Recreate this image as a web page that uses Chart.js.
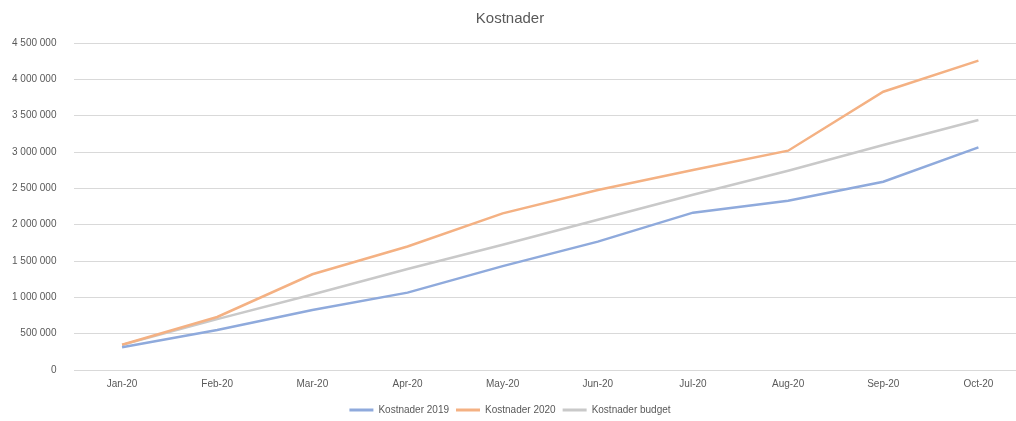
<!DOCTYPE html>
<html>
<head>
<meta charset="utf-8">
<script src="https://cdn.jsdelivr.net/npm/chart.js@4"></script>
<style>
  html, body { margin: 0; padding: 0; background: #fff; overflow: hidden; }
  #wrap { width: 1046px; height: 421px; position: relative; }
</style>
</head>
<body>
<div id="wrap"><canvas id="chart"></canvas></div>
<script>
// Chart data
const months = ['Jan-20', 'Feb-20', 'Mar-20', 'Apr-20', 'May-20', 'Jun-20', 'Jul-20', 'Aug-20', 'Sep-20', 'Oct-20'];
const kostnader2019 = [312000, 550000, 826000, 1065000, 1430000, 1766000, 2165000, 2330000, 2590000, 3064000];
const kostnader2020 = [348000, 730000, 1317000, 1700000, 2156000, 2477000, 2752000, 3018000, 3830000, 4257000];
const kostnaderBudget = [346000, 700000, 1040000, 1390000, 1724000, 2067000, 2412000, 2743000, 3096000, 3440000];
const yTicksMax = 4500000;
const yTicksStep = 500000;

const textColor = '#595959';
const gridColor = '#d9d9d9';
const fontFamily = '"Liberation Sans", Arial, sans-serif';

// Format with space as thousands separator
function formatNumber(v) {
  return String(v).replace(/\B(?=(\d{3})+(?!\d))/g, ' ');
}

function makeDataset(label, data, color) {
  return {
    label: label,
    data: data,
    borderColor: color,
    backgroundColor: color,
    borderWidth: 2.5,
    pointRadius: 0,
    tension: 0,
    fill: false,
  };
}

const config = {
  type: 'line',
  data: {
    labels: months,
    datasets: [
      makeDataset('Kostnader 2019', kostnader2019, '#8FAADC'),
      makeDataset('Kostnader 2020', kostnader2020, '#F4B183'),
      makeDataset('Kostnader budget', kostnaderBudget, '#C9C9C9'),
    ],
  },
  options: {
    responsive: true,
    maintainAspectRatio: false,
    animation: false,
    layout: {
      padding: { top: 6, bottom: -4, left: -6, right: 20 },
    },
    plugins: {
      title: {
        display: true,
        text: 'Kostnader',
        color: textColor,
        font: { family: fontFamily, size: 15, weight: 'normal' },
        padding: { top: 4, bottom: 15 },
      },
      legend: {
        position: 'bottom',
        labels: {
          color: textColor,
          font: { family: fontFamily, size: 10 },
          boxWidth: 24,
          boxHeight: 3,
          padding: 7,
          generateLabels: (chart) =>
            Chart.defaults.plugins.legend.labels.generateLabels(chart).map(l => ({
              ...l,
              lineWidth: 0,
              fillStyle: l.strokeStyle,
            })),
        },
      },
      tooltip: { enabled: false },
    },
    scales: {
      x: {
        offset: true,
        grid: { display: false, drawTicks: false },
        border: { display: true, color: gridColor },
        ticks: {
          color: textColor,
          font: { family: fontFamily, size: 10 },
          padding: 8,
          maxRotation: 0,
        },
      },
      y: {
        min: 0,
        max: yTicksMax,
        grid: { color: gridColor, drawTicks: false },
        border: { display: false },
        ticks: {
          stepSize: yTicksStep,
          color: textColor,
          font: { family: fontFamily, size: 10 },
          padding: 18,
          callback: (v) => formatNumber(v),
        },
      },
    },
  },
};

new Chart(document.getElementById('chart').getContext('2d'), config);
</script>
</body>
</html>
